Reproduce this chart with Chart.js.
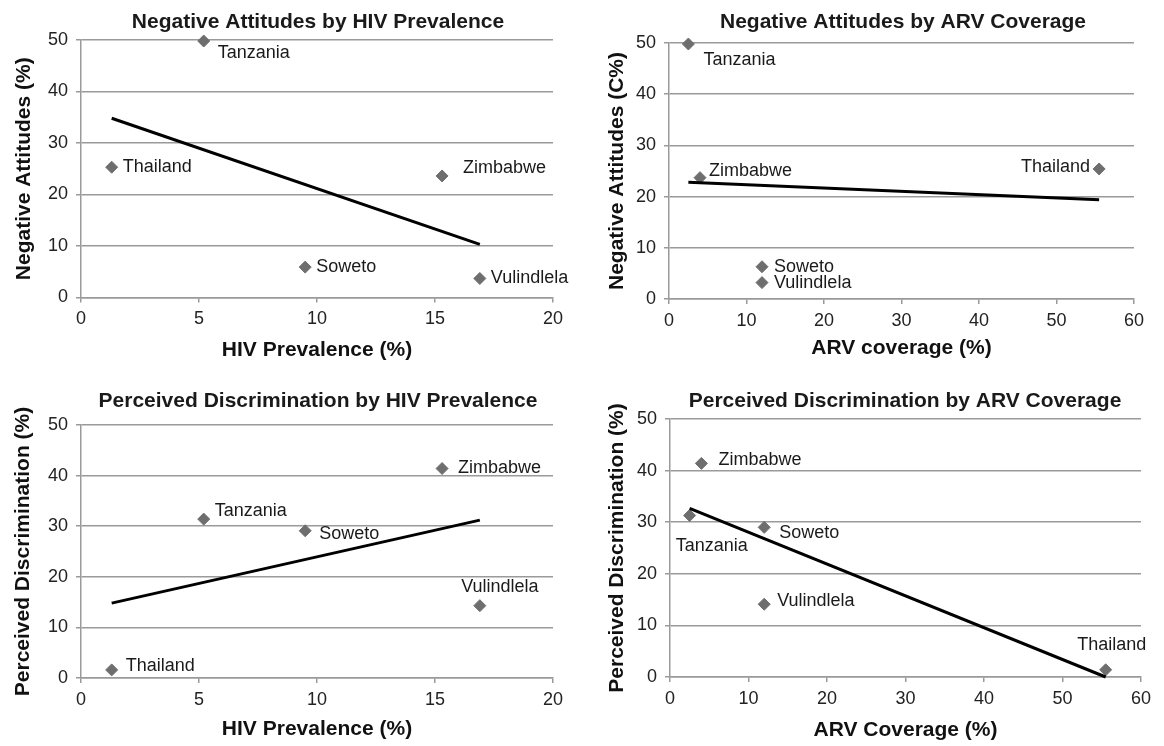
<!DOCTYPE html>
<html>
<head>
<meta charset="utf-8">
<script src="https://cdn.jsdelivr.net/npm/chart.js@4.4.1/dist/chart.umd.min.js"></script>
<style>
  html, body { margin: 0; padding: 0; background: #fff; }
  #wrap { position: relative; width: 1164px; height: 746px; }
  .panel { position: absolute; width: 582px; height: 373px; }
</style>
</head>
<body>
<div id="wrap">
  <div class="panel" style="left:0;top:0"><canvas id="c1" width="582" height="373"></canvas></div>
  <div class="panel" style="left:582px;top:0"><canvas id="c2" width="582" height="373"></canvas></div>
  <div class="panel" style="left:0;top:373px"><canvas id="c3" width="582" height="373"></canvas></div>
  <div class="panel" style="left:582px;top:373px"><canvas id="c4" width="582" height="373"></canvas></div>
</div>
<script>
// data
const countries = ['Tanzania', 'Thailand', 'Zimbabwe', 'Soweto', 'Vulindlela'];
const hivPrevalence = [5.2, 1.3, 15.3, 9.5, 16.9];
const arvCoverage = [2.5, 55.5, 4.0, 12.0, 12.0];

const negAttHiv = [49.8, 25.3, 23.6, 5.9, 3.7];
const negAttArv = [49.8, 25.4, 23.7, 6.3, 3.2];
const discHiv = [31.4, 1.6, 41.4, 29.1, 14.3];
const discArv = [31.3, 1.4, 41.4, 29.0, 14.1];

// trend line end points [x, y]
const trendNegHiv = [[1.3, 34.8], [16.9, 10.3]];
const trendNegArv = [[2.5, 22.8], [55.5, 19.4]];
const trendDiscHiv = [[1.3, 14.8], [16.9, 31.2]];
const trendDiscArv = [[2.5, 32.7], [55.5, 0]];

const hivTicks = { max: 20, step: 5 };
const arvTicks = { max: 60, step: 10 };
const yTicks = { max: 50, step: 10 };

const FONT = '"Liberation Sans", Arial, Helvetica, sans-serif';
const gridColor = '#9a9a9a';
const markerColor = '#6e6e6e';

// label offsets in px from the marker: [dx, dy, align]
const panels = [
  {
    id: 'c1', title: 'Negative Attitudes by HIV Prevalence', titleAt: [318, 22],
    xTitle: 'HIV Prevalence (%)', yTitle: 'Negative Attitudes (%)',
    xs: hivPrevalence, ys: negAttHiv, trend: trendNegHiv, xAxis: hivTicks,
    box: { left: 81, right: 553, top: 40, bottom: 297.5 }, yTitleX: 24, xTitleY: 350,
    offsets: [[14, 12, 'left'], [11, 0, 'left'], [21, -8, 'left'], [11, 0, 'left'], [11, 0, 'left']]
  },
  {
    id: 'c2', title: 'Negative Attitudes by ARV Coverage', titleAt: [321, 22],
    xTitle: 'ARV coverage (%)', yTitle: 'Negative Attitudes (C%)',
    xs: arvCoverage, ys: negAttArv, trend: trendNegArv, xAxis: arvTicks,
    box: { left: 87, right: 552, top: 43, bottom: 299 }, yTitleX: 35, xTitleY: 348,
    offsets: [[15, 16, 'left'], [-9, -2, 'right'], [9, -7, 'left'], [12, 0, 'left'], [12, 0, 'left']]
  },
  {
    id: 'c3', title: 'Perceived Discrimination by HIV Prevalence', titleAt: [318, 28],
    xTitle: 'HIV Prevalence (%)', yTitle: 'Perceived Discrimination (%)',
    xs: hivPrevalence, ys: discHiv, trend: trendDiscHiv, xAxis: hivTicks,
    box: { left: 81, right: 553, top: 52, bottom: 305 }, yTitleX: 23, xTitleY: 356,
    offsets: [[11, -8, 'left'], [14, -4, 'left'], [16, 0, 'left'], [14, 3, 'left'], [20, -19, 'center']]
  },
  {
    id: 'c4', title: 'Perceived Discrimination by ARV Coverage', titleAt: [323, 28],
    xTitle: 'ARV Coverage (%)', yTitle: 'Perceived Discrimination (%)',
    xs: arvCoverage, ys: discArv, trend: trendDiscArv, xAxis: arvTicks,
    box: { left: 88, right: 559, top: 46, bottom: 304 }, yTitleX: 35, xTitleY: 357,
    offsets: [[-14, 31, 'left'], [6, -25, 'center'], [17, -3, 'left'], [15, 6, 'left'], [13, -3, 'left']]
  }
];

function labelPlugin(p) {
    return {
        id: 'labels_' + p.id,
        afterDatasetsDraw(chart) {
            const ctx = chart.ctx;
            const meta = chart.getDatasetMeta(1);
            ctx.save();
            ctx.fillStyle = '#1a1a1a';
            ctx.textBaseline = 'middle';
            ctx.font = '18px ' + FONT;
            meta.data.forEach((pt, i) => {
                const [dx, dy, align] = p.offsets[i];
                ctx.textAlign = align;
                ctx.fillText(countries[i], pt.x + dx, pt.y + dy);
            });
            // panel title
            ctx.font = 'bold 21px ' + FONT;
            ctx.textAlign = 'center';
            ctx.fillText(p.title, p.titleAt[0], p.titleAt[1]);
            ctx.restore();
        }
    };
}

function drawPanel(p) {
    const W = 582, H = 373;
    const lh = 21 * 1.2;
    new Chart(document.getElementById(p.id), {
        type: 'scatter',
        data: {
            datasets: [
                {
                    data: p.trend.map(t => ({ x: t[0], y: t[1] })),
                    showLine: true,
                    borderColor: '#000',
                    borderWidth: 3,
                    pointRadius: 0,
                    clip: false
                },
                {
                    data: p.xs.map((x, i) => ({ x: x, y: p.ys[i] })),
                    pointStyle: 'rectRot',
                    pointRadius: 6,
                    pointBackgroundColor: markerColor,
                    pointBorderColor: markerColor,
                    pointBorderWidth: 1,
                    clip: false
                }
            ]
        },
        options: {
            responsive: false,
            animation: false,
            layout: { padding: { left: 0, top: p.box.top, right: W - p.box.right, bottom: 0 } },
            plugins: {
                legend: { display: false },
                tooltip: { enabled: false },
                title: { display: false }
            },
            scales: {
                x: {
                    type: 'linear',
                    min: 0, max: p.xAxis.max,
                    afterFit: s => { s.height = H - p.box.bottom; },
                    ticks: { stepSize: p.xAxis.step, color: '#222', padding: 6, font: { family: FONT, size: 18 } },
                    grid: { drawOnChartArea: false, drawTicks: true, tickLength: 5, color: gridColor, lineWidth: 1.5 },
                    border: { color: gridColor, width: 1.5 },
                    title: {
                        display: true, text: p.xTitle, color: '#111',
                        font: { family: FONT, size: 21, weight: 'bold', lineHeight: 1.2 },
                        padding: { top: 0, bottom: (H - p.xTitleY) - lh / 2 }
                    }
                },
                y: {
                    min: 0, max: yTicks.max,
                    afterFit: s => { s.width = p.box.left; },
                    ticks: { stepSize: yTicks.step, color: '#222', padding: 8, font: { family: FONT, size: 18 } },
                    grid: { color: gridColor, lineWidth: 1.5, tickLength: 5 },
                    border: { color: gridColor, width: 1.5 },
                    title: {
                        display: true, text: p.yTitle, color: '#111',
                        font: { family: FONT, size: 21, weight: 'bold', lineHeight: 1.2 },
                        padding: { top: p.yTitleX - lh / 2, bottom: 0 }
                    }
                }
            }
        },
        plugins: [labelPlugin(p)]
    });
}

panels.forEach(drawPanel);
</script>
</body>
</html>
